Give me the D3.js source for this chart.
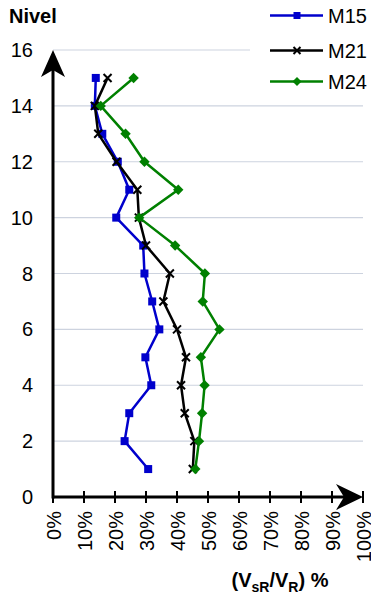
<!DOCTYPE html>
<html>
<head>
<meta charset="utf-8">
<script src="https://cdn.jsdelivr.net/npm/d3@7"></script>
<style>
html,body{margin:0;padding:0;background:#fff;}
svg{display:block;font-family:"Liberation Sans",Arial,sans-serif;}
</style>
</head>
<body>
<svg id="chart" width="371" height="594"></svg>
<script>
const levels = [1,2,3,4,5,6,7,8,9,10,11,12,13,14,15];
const m15 = [30.7,23.1,24.6,31.7,29.8,34.3,32.0,29.5,29.1,20.4,24.6,20.9,15.9,13.5,13.8];
const m21 = [45.1,45.6,42.5,41.3,42.9,40.0,35.6,37.7,30.0,27.7,27.2,20.5,14.6,13.5,17.6];
const m24 = [45.9,47.1,48.1,48.9,47.7,53.7,48.3,49.0,39.4,27.8,40.4,29.5,23.4,15.4,26.0];
const seriesNames = ["M15","M21","M24"];
const xTicks = [0,10,20,30,40,50,60,70,80,90,100];
const yTicks = [0,2,4,6,8,10,12,14,16];

const seriesData = [m15, m21, m24];
const colors = ["#0000cc","#000000","#008000"];
const markers = ["square","cross","diamond"];

const svg = d3.select("#chart");
const x = d3.scaleLinear().domain([0,100]).range([53,363]);
const y = d3.scaleLinear().domain([0,16]).range([497,50]);

// gridlines
svg.append("g").selectAll("line").data(yTicks.filter(d=>d>0)).join("line")
  .attr("x1", x(0)).attr("x2", x(100))
  .attr("y1", d=>y(d)).attr("y2", d=>y(d))
  .attr("stroke","#cdd3df").attr("stroke-width",1.2);

// y tick labels
svg.append("g").selectAll("text").data(yTicks).join("text")
  .attr("x", 33).attr("y", d=>y(d)).attr("dy","0.35em")
  .attr("text-anchor","end").attr("font-size",20).attr("fill","#000")
  .text(d=>d);

// x axis via d3 axis
const xAxis = d3.axisBottom(x).tickValues(xTicks).tickSize(0).tickFormat(d=>d+"%");
const gx = svg.append("g").attr("transform",`translate(0,${y(0)})`).call(xAxis);
gx.select(".domain").remove();
gx.selectAll(".tick line").remove();
gx.selectAll(".tick text")
  .attr("font-size",20).attr("font-family","Liberation Sans, Arial, sans-serif").attr("fill","#000")
  .attr("transform","translate(0,14) rotate(-90)")
  .attr("text-anchor","end").attr("x",0).attr("y",0).attr("dy","0.35em");

// x tick marks
svg.append("g").selectAll("line").data(xTicks).join("line")
  .attr("x1", d=>x(d)).attr("x2", d=>x(d))
  .attr("y1", y(0)-6).attr("y2", y(0)+6)
  .attr("stroke","#000").attr("stroke-width",2);

// axes lines
svg.append("line").attr("x1",x(0)).attr("x2",x(100)-10).attr("y1",y(0)).attr("y2",y(0))
  .attr("stroke","#000").attr("stroke-width",3);
svg.append("line").attr("x1",x(0)).attr("x2",x(0)).attr("y1",y(0)+1.5).attr("y2",y(16)+14)
  .attr("stroke","#000").attr("stroke-width",3);

// arrowheads
const tx = x(100), ty = y(0);
svg.append("path").attr("d",`M${tx},${ty} L${tx-27},${ty-13} L${tx-19},${ty} L${tx-27},${ty+13} Z`).attr("fill","#000");
const ax = x(0), ay = y(16);
svg.append("path").attr("d",`M${ax},${ay} L${ax-12},${ay+27} L${ax},${ay+20} L${ax+12},${ay+27} Z`).attr("fill","#000");

// lines
const line = d3.line().x(d=>x(d[0])).y(d=>y(d[1]));
function drawMarker(g, type, color, cx, cy, s) {
  if (type==="square") {
    g.append("rect").attr("x",cx-s/2).attr("y",cy-s/2).attr("width",s).attr("height",s).attr("fill",color);
  } else if (type==="diamond") {
    const h = s*0.65;
    g.append("path").attr("d",`M${cx},${cy-h} L${cx+h},${cy} L${cx},${cy+h} L${cx-h},${cy} Z`).attr("fill",color);
  } else {
    const h = s/2;
    g.append("path").attr("d",`M${cx-h},${cy-h} L${cx+h},${cy+h} M${cx-h},${cy+h} L${cx+h},${cy-h}`)
      .attr("stroke",color).attr("stroke-width",2);
  }
}
seriesData.forEach((vals,i)=>{
  const pts = vals.map((v,j)=>[v, levels[j]]);
  const g = svg.append("g");
  g.append("path").attr("d",line(pts)).attr("fill","none").attr("stroke",colors[i]).attr("stroke-width",2.5).attr("stroke-linejoin","round");
  pts.forEach(p=>drawMarker(g, markers[i], colors[i], x(p[0]), y(p[1]), 8));
});

// legend
const leg = svg.append("g");
leg.append("rect").attr("x",250).attr("y",0).attr("width",121).attr("height",96).attr("fill","#fff");
const legY = [15.5, 50.5, 81.5];
seriesNames.forEach((n,i)=>{
  leg.append("line").attr("x1",270).attr("x2",323).attr("y1",legY[i]).attr("y2",legY[i])
    .attr("stroke",colors[i]).attr("stroke-width",2.5);
  drawMarker(leg, markers[i], colors[i], 297, legY[i], 7);
  leg.append("text").attr("x",328).attr("y",legY[i]).attr("dy","0.35em").attr("font-size",20).text(n);
});

// axis titles
svg.append("text").attr("x",9).attr("y",23).attr("font-size",20).attr("font-weight","bold").text("Nivel");
const t = svg.append("text").attr("x",280).attr("y",587).attr("text-anchor","middle")
  .attr("font-size",20).attr("font-weight","bold");
t.append("tspan").text("(V");
t.append("tspan").attr("font-size",14).attr("dy",5).text("sR");
t.append("tspan").attr("dy",-5).text("/V");
t.append("tspan").attr("font-size",14).attr("dy",5).text("R");
t.append("tspan").attr("dy",-5).text(") %");
</script>
</body>
</html>
